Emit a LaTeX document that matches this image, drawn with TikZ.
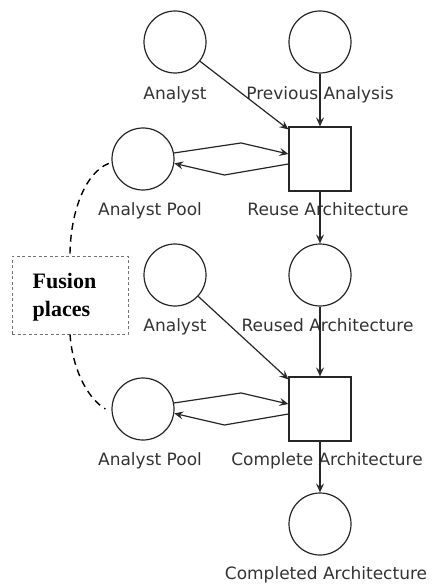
\documentclass[tikz,border=0pt]{standalone}
\usepackage{fontspec}
\setmainfont{DejaVu Sans}
\newfontfamily\fusionfont{Liberation Serif}
\usetikzlibrary{arrows.meta}

\begin{document}
\begin{tikzpicture}[x=1pt,y=-1pt,
	place/.style={draw=black!85,circle,line width=1.2pt,minimum size=62pt,inner sep=0pt},
	trans/.style={draw=black!85,rectangle,line width=1.2pt,minimum width=62pt,minimum height=64pt,inner sep=0pt},
	lbl/.style={font=\fontsize{17}{19}\selectfont,text=black!80,inner sep=0pt,anchor=base},
	arc/.style={draw=black!85,line width=1.2pt,-{Stealth[open,length=9pt,width=8pt,inset=3.5pt]}},
	fusionline/.style={line width=1.4pt,dash pattern=on 7pt off 5pt}]
	\useasboundingbox (0,0) rectangle (432,585);

	% places and transitions
	\node[place] (an1) at (175,42) {};
	\node[place] (prev) at (320,42) {};
	\node[place] (pool1) at (143,159) {};
	\node[trans] (reuse) at (320,159) {};
	\node[place] (an2) at (175,275) {};
	\node[place] (reused) at (320,275) {};
	\node[place] (pool2) at (143,409) {};
	\node[trans] (complete) at (320,409) {};
	\node[place] (done) at (320,524) {};

	\node[lbl] (l-an1) at ([yshift=-25.5pt]an1.south) {Analyst};
	\node[lbl] (l-prev) at ([yshift=-25.5pt]prev.south) {Previous Analysis};
	\node[lbl] (l-pool1) at ([xshift=7pt,yshift=-25pt]pool1.south) {Analyst Pool};
	\node[lbl] (l-reuse) at ([xshift=8pt,yshift=-24pt]reuse.south) {Reuse Architecture};
	\node[lbl] (l-an2) at ([yshift=-25pt]an2.south) {Analyst};
	\node[lbl] (l-reused) at ([xshift=7.5pt,yshift=-25pt]reused.south) {Reused Architecture};
	\node[lbl] (l-pool2) at ([xshift=7pt,yshift=-25pt]pool2.south) {Analyst Pool};
	\node[lbl] (l-complete) at ([xshift=7pt,yshift=-24pt]complete.south) {Complete Architecture};
	\node[lbl] (l-done) at ([xshift=6pt,yshift=-24pt]done.south) {Completed Architecture};

	% arcs
	\draw[arc] (an1) -- ([yshift=-3pt]reuse.north west);
	\draw[arc] (prev) -- (reuse);
	\draw[arc] (pool1.11) -- ++(67,-10) -- ([yshift=5pt]reuse.west);
	\draw[arc] ([yshift=-5pt]reuse.west) -- ++(-64,11) -- (pool1.-8);
	\draw[arc] (reuse) -- (reused);
	\draw[arc] (an2) -- ([yshift=-3pt]complete.north west);
	\draw[arc] (reused) -- (complete);
	\draw[arc] (pool2.11) -- ++(67,-10) -- ([yshift=5pt]complete.west);
	\draw[arc] ([yshift=-5pt]complete.west) -- ++(-64,11) -- (pool2.-8);
	\draw[arc] (complete) -- (done);

	% fusion
	\node[draw=black!55,dash pattern=on 3pt off 2.5pt,line width=0.7pt,minimum width=116pt,minimum height=78pt,inner sep=0pt] (fusion) at (70,295) {};
	\node[font=\fusionfont\bfseries\fontsize{22}{28}\selectfont,align=left,inner sep=0pt] (fusiontxt) at (64.5,297) {Fusion\\places};
	\draw[fusionline] ([xshift=-3pt]pool1.188) .. controls +(-25,10) and +(0,-40) .. (fusion.north);
	\draw[fusionline] (fusion.south) .. controls +(2,31) and +(-20,-12) .. ([xshift=-6pt]pool2.west);
\end{tikzpicture}
\end{document}
